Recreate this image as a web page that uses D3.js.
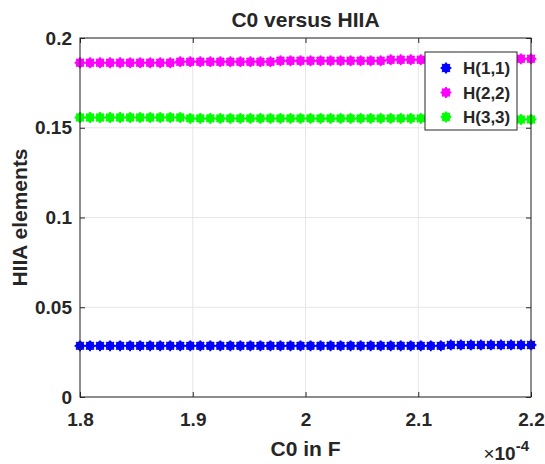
<!DOCTYPE html>
<html>
<head>
<meta charset="utf-8">
<script src="https://cdn.jsdelivr.net/npm/d3@7"></script>
<style>
  body { margin: 0; background: #fff; }
  text { font-family: "Liberation Sans", Arial, sans-serif; font-weight: bold; fill: #262626; }
</style>
</head>
<body>
<svg id="chart" width="545" height="464"></svg>
<script>
// x values in units of 1e-4 F (46 points from 1.8 to 2.2)
const c0 = d3.range(46).map(i => +(1.8 + i * 0.4 / 45).toFixed(5));

// HIIA diagonal elements
const h11 = [
  0.0285, 0.0285, 0.0285, 0.0285, 0.0285, 0.0285, 0.0285, 0.0285, 0.0285, 0.0285,
  0.0285, 0.0285, 0.0285, 0.0285, 0.0285, 0.0285, 0.0285, 0.0285, 0.0285, 0.0285,
  0.0285, 0.0285, 0.0285, 0.0285, 0.0285, 0.0285, 0.0285, 0.0285, 0.0285, 0.0285,
  0.0285, 0.0285, 0.0285, 0.0285, 0.0285, 0.0285, 0.0285, 0.0290, 0.0290, 0.0290,
  0.0290, 0.0290, 0.0290, 0.0290, 0.0290, 0.0290
];
const h22 = [
  0.1862, 0.1862, 0.1862, 0.1862, 0.1862, 0.1862, 0.1862, 0.1862, 0.1862, 0.1862,
  0.1868, 0.1868, 0.1868, 0.1868, 0.1868, 0.1868, 0.1868, 0.1868, 0.1868, 0.1868,
  0.1873, 0.1873, 0.1873, 0.1873, 0.1873, 0.1873, 0.1873, 0.1873, 0.1873, 0.1873,
  0.1873, 0.1879, 0.1879, 0.1879, 0.1879, 0.1879, 0.1879, 0.1879, 0.1879, 0.1879,
  0.1879, 0.1879, 0.1884, 0.1884, 0.1884, 0.1884
];
const h33 = [
  0.1557, 0.1557, 0.1557, 0.1557, 0.1557, 0.1557, 0.1557, 0.1557, 0.1557, 0.1557,
  0.1557, 0.1552, 0.1552, 0.1552, 0.1552, 0.1552, 0.1552, 0.1552, 0.1552, 0.1552,
  0.1552, 0.1552, 0.1552, 0.1552, 0.1552, 0.1552, 0.1552, 0.1552, 0.1552, 0.1552,
  0.1552, 0.1552, 0.1552, 0.1552, 0.1552, 0.1552, 0.1552, 0.1552, 0.1552, 0.1552,
  0.1546, 0.1546, 0.1546, 0.1546, 0.1546, 0.1546
];

const seriesNames = ['H(1,1)', 'H(2,2)', 'H(3,3)'];
const seriesColors = ['#0000ff', '#ff00ff', '#00ff00'];
const xTicks = [1.8, 1.9, 2.0, 2.1, 2.2];
const yTicks = [0, 0.05, 0.1, 0.15, 0.2];

const svg = d3.select('#chart');
const margin = { left: 80, top: 38, right: 14, bottom: 67 };
const W = 545, H = 464;

const x = d3.scaleLinear().domain([1.8, 2.2]).range([margin.left, W - margin.right]);
const y = d3.scaleLinear().domain([0, 0.2]).range([H - margin.bottom, margin.top]);

// grid
svg.append('g').selectAll('line').data(xTicks).enter().append('line')
  .attr('x1', d => x(d)).attr('x2', d => x(d))
  .attr('y1', y(0)).attr('y2', y(0.2))
  .attr('stroke', '#e6e6e6').attr('stroke-width', 1);
svg.append('g').selectAll('line').data(yTicks).enter().append('line')
  .attr('x1', x(1.8)).attr('x2', x(2.2))
  .attr('y1', d => y(d)).attr('y2', d => y(d))
  .attr('stroke', '#e6e6e6').attr('stroke-width', 1);

// data markers: filled dot with small star spikes
const series = [h11, h22, h33];
function marker(g, color) {
  g.append('circle').attr('r', 4.5).attr('fill', color);
  [0, 45, 90, 135].forEach(a => {
    g.append('line')
      .attr('x1', -5.4).attr('x2', 5.4).attr('y1', 0).attr('y2', 0)
      .attr('transform', `rotate(${a})`)
      .attr('stroke', color).attr('stroke-width', 1.8);
  });
}
series.forEach((vals, si) => {
  svg.append('g').selectAll('g').data(vals).enter().append('g')
    .attr('transform', (d, i) => `translate(${x(c0[i])},${y(d)})`)
    .each(function () { marker(d3.select(this), seriesColors[si]); });
});

// axes
const xAxisB = d3.axisBottom(x).tickValues(xTicks).tickSizeInner(-5).tickSizeOuter(0)
  .tickPadding(16).tickFormat(d3.format('~g'));
const xAxisT = d3.axisTop(x).tickValues(xTicks).tickSizeInner(-5).tickSizeOuter(0).tickFormat('');
const yAxisL = d3.axisLeft(y).tickValues(yTicks).tickSizeInner(-5).tickSizeOuter(0)
  .tickPadding(8).tickFormat(d3.format('~g'));
const yAxisR = d3.axisRight(y).tickValues(yTicks).tickSizeInner(-5).tickSizeOuter(0).tickFormat('');

function styleAxis(g) {
  g.select('.domain').remove();
  g.selectAll('line').attr('stroke', '#262626');
  g.selectAll('text').attr('font-size', 19).attr('fill', '#262626')
    .attr('font-family', '"Liberation Sans", Arial, sans-serif').attr('font-weight', 'bold');
}
svg.append('g').attr('transform', `translate(0,${y(0)})`).call(xAxisB).call(styleAxis);
svg.append('g').attr('transform', `translate(0,${y(0.2)})`).call(xAxisT).call(styleAxis);
svg.append('g').attr('transform', `translate(${x(1.8)},0)`).call(yAxisL).call(styleAxis);
svg.append('g').attr('transform', `translate(${x(2.2)},0)`).call(yAxisR).call(styleAxis);

// box
svg.append('rect')
  .attr('x', x(1.8)).attr('y', y(0.2))
  .attr('width', x(2.2) - x(1.8)).attr('height', y(0) - y(0.2))
  .attr('fill', 'none').attr('stroke', '#262626').attr('stroke-width', 1);

// title and labels
svg.append('text').attr('x', (x(1.8) + x(2.2)) / 2).attr('y', 27)
  .attr('text-anchor', 'middle').attr('font-size', 21).text('C0 versus HIIA');
svg.append('text').attr('x', (x(1.8) + x(2.2)) / 2).attr('y', 456)
  .attr('text-anchor', 'middle').attr('font-size', 21).text('C0 in F');
svg.append('text')
  .attr('transform', `translate(27,${(y(0) + y(0.2)) / 2}) rotate(-90)`)
  .attr('text-anchor', 'middle').attr('font-size', 21).text('HIIA elements');

// exponent label
const ex = svg.append('text').attr('x', x(2.2) - 2).attr('y', 460)
  .attr('text-anchor', 'end').attr('font-size', 19);
ex.append('tspan').attr('font-weight', 'normal').text('\u00d7');
ex.append('tspan').text('10');
ex.append('tspan').attr('dy', -9).attr('font-size', 15).text('-4');

// legend
const lg = svg.append('g').attr('transform', 'translate(425,52)');
lg.append('rect').attr('width', 92).attr('height', 78)
  .attr('fill', '#fff').attr('stroke', '#262626').attr('stroke-width', 1);
seriesNames.forEach((name, i) => {
  const row = lg.append('g').attr('transform', `translate(21,${16 + i * 24.5})`);
  marker(row, seriesColors[i]);
  row.append('text').attr('x', 17).attr('y', 6).attr('font-size', 17).text(name);
});
</script>
</body>
</html>
